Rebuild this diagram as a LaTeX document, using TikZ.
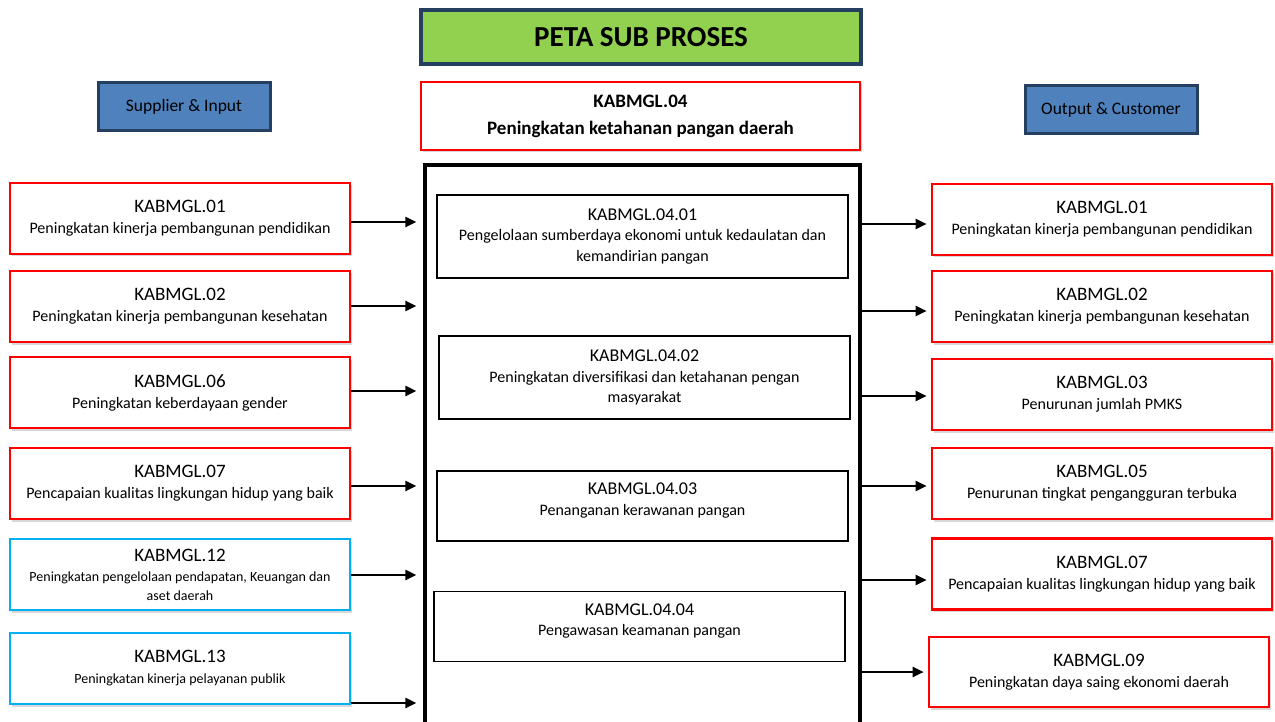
\documentclass[tikz,border=0pt]{standalone}
\usepackage{fontspec}
\setmainfont{Carlito}
\usetikzlibrary{arrows.meta,shadows}
\definecolor{navy}{HTML}{243F60}
\definecolor{steel}{HTML}{4F81BD}
\definecolor{grn}{HTML}{92D050}
\definecolor{cyanb}{HTML}{00B0F0}
\newcommand\kt[1]{{\fontsize{19}{21}\selectfont #1}}
\newcommand\kc[1]{{\fontsize{18}{21}\selectfont #1}}
\begin{document}
\begin{tikzpicture}[x=1pt,y=-1pt,
  box/.style={draw, rectangle, inner sep=0pt, align=center, text=black, fill=white},
  redbox/.style={box, draw=red, line width=2.6pt, minimum width=340pt, minimum height=71pt,
    font=\fontsize{16}{21}\selectfont,
    drop shadow={shadow xshift=1.5pt, shadow yshift=-2.5pt, fill=black!30}},
  bluebox/.style={redbox, draw=cyanb},
  subbox/.style={box, draw=black, line width=1.6pt, minimum width=411pt, font=\fontsize{16}{20.5}\selectfont},
  headbox/.style={box, draw=navy, line width=3pt, fill=steel, minimum width=172pt, minimum height=48pt,
    font=\fontsize{17.5}{20}\selectfont},
  arr/.style={line width=2.4pt, -{Triangle[length=11pt,width=10pt]}}]
\path[use as bounding box, clip] (0,0) rectangle (1275,722);
\fill[white] (0,0) rectangle (1275,722);

% headers
\node[box, draw=navy, fill=grn, line width=3.2pt, minimum width=440pt, minimum height=54pt,
  font=\fontsize{29}{32}\selectfont\bfseries] (T) at (641,37) {PETA SUB PROSES};
\node[box, draw=red, line width=2.8pt, minimum width=439pt, minimum height=68pt,
  font=\fontsize{19}{27}\selectfont\bfseries,
  drop shadow={shadow xshift=1.5pt, shadow yshift=-2.5pt, fill=black!30}] (H) at (640.5,116)
  {KABMGL.04\\Peningkatan ketahanan pangan daerah};
\node[headbox] (SI) at (184,106.5) {Supplier \& Input};
\node[headbox] (OC) at (1111,110) {Output \& Customer};

% main box
\node[draw=black, line width=3.2pt, minimum width=435pt, minimum height=580pt, inner sep=0pt] (M) at (642.5,455) {};

% center sub-process boxes
\node[subbox, minimum height=83pt] (S1) at (642.5,236.5)
  {\kc{KABMGL.04.01}\\Pengelolaan sumberdaya ekonomi untuk kedaulatan dan\\kemandirian pangan};
\node[subbox, minimum height=83pt] (S2) at (644.5,377.5)
  {\kc{KABMGL.04.02}\\Peningkatan diversifikasi dan ketahanan pengan\\masyarakat};
\node[subbox, minimum height=70pt, text depth=14pt] (S3) at (642.5,506)
  {\kc{KABMGL.04.03}\\Penanganan kerawanan pangan};
\node[subbox, minimum height=70pt, text depth=14pt] (S4) at (639.5,626.5)
  {\kc{KABMGL.04.04}\\Pengawasan keamanan pangan};

% left boxes
\node[redbox] (L1) at (180,218.5) {\kt{KABMGL.01}\\Peningkatan kinerja pembangunan pendidikan};
\node[redbox] (L2) at (180,306.5) {\kt{KABMGL.02}\\Peningkatan kinerja pembangunan kesehatan};
\node[redbox] (L3) at (180,392.5) {\kt{KABMGL.06}\\Peningkatan keberdayaan gender};
\node[redbox] (L4) at (180,483.5) {\kt{KABMGL.07}\\Pencapaian kualitas lingkungan hidup yang baik};
\node[bluebox, font=\fontsize{14}{18.5}\selectfont] (L5) at (180,574.5)
  {\kt{KABMGL.12}\\[2pt]Peningkatan pengelolaan pendapatan, Keuangan dan\\aset daerah};
\node[bluebox, font=\fontsize{14}{21}\selectfont] (L6) at (180,668.5)
  {\kt{KABMGL.13}\\Peningkatan kinerja pelayanan publik};

% right boxes
\node[redbox] (R1) at (1102,219.5) {\kt{KABMGL.01}\\Peningkatan kinerja pembangunan pendidikan};
\node[redbox] (R2) at (1102,306.5) {\kt{KABMGL.02}\\Peningkatan kinerja pembangunan kesehatan};
\node[redbox] (R3) at (1102,394.5) {\kt{KABMGL.03}\\Penurunan jumlah PMKS};
\node[redbox] (R4) at (1102,483.5) {\kt{KABMGL.05}\\Penurunan tingkat pengangguran terbuka};
\node[redbox] (R5) at (1102,574) {\kt{KABMGL.07}\\Pencapaian kualitas lingkungan hidup yang baik};
\node[redbox, minimum height=70pt] (R6) at (1099,672) {\kt{KABMGL.09}\\Peningkatan daya saing ekonomi daerah};

% left arrows
\draw[arr] (L1.east |- 0,222) -- ([xshift=-7pt]M.west |- 0,222);
\draw[arr] (L2.east |- 0,306) -- ([xshift=-7pt]M.west |- 0,306);
\draw[arr] (L3.east |- 0,391) -- ([xshift=-7pt]M.west |- 0,391);
\draw[arr] (L4.east |- 0,486) -- ([xshift=-7pt]M.west |- 0,486);
\draw[arr] (L5.east |- 0,575) -- ([xshift=-7pt]M.west |- 0,575);
\draw[arr] (L6.east |- 0,703) -- ([xshift=-7pt]M.west |- 0,703);

% right arrows
\draw[arr] (M.east |- 0,224) -- ([xshift=-4pt]R1.west |- 0,224);
\draw[arr] (M.east |- 0,311) -- ([xshift=-4pt]R2.west |- 0,311);
\draw[arr] (M.east |- 0,396) -- ([xshift=-4pt]R3.west |- 0,396);
\draw[arr] (M.east |- 0,486) -- ([xshift=-4pt]R4.west |- 0,486);
\draw[arr] (M.east |- 0,580) -- ([xshift=-4pt]R5.west |- 0,580);
\draw[arr] (M.east |- 0,672) -- ([xshift=-4pt]R6.west |- 0,672);
\end{tikzpicture}
\end{document}
